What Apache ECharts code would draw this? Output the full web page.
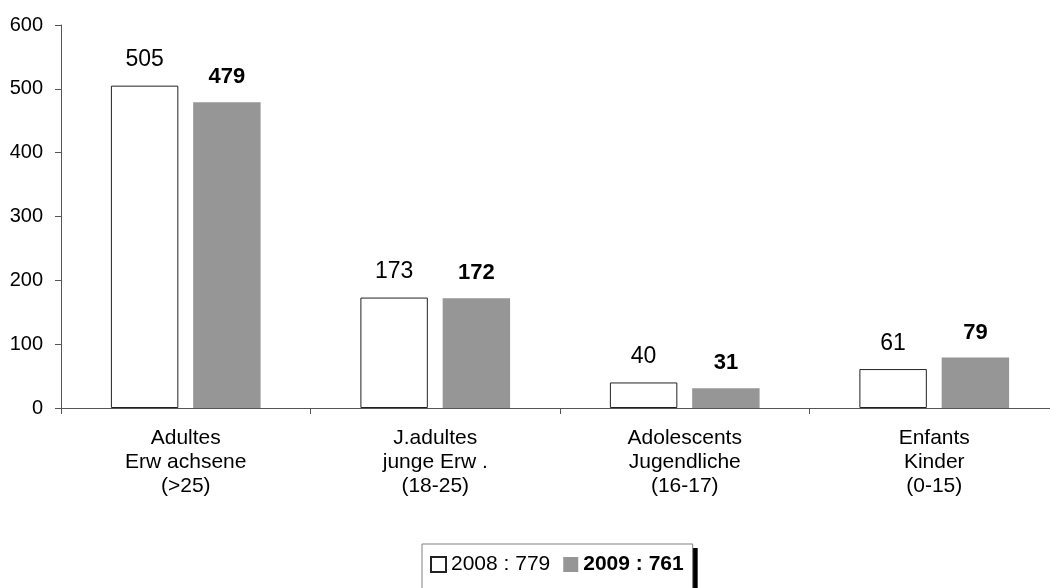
<!DOCTYPE html>
<html><head><meta charset="utf-8">
<script src="https://cdn.jsdelivr.net/npm/echarts@6/dist/echarts.min.js"></script>
<style>html,body{margin:0;padding:0;background:#fff;overflow:hidden}#c{width:1062px;height:588px}</style>
</head><body><div id="c"></div>
<script>
const categories = ['Adultes\nErw achsene\n(>25)', 'J.adultes\njunge Erw .\n(18-25)', 'Adolescents\nJugendliche\n(16-17)', 'Enfants\nKinder\n(0-15)'];
const values2008 = [505, 173, 40, 61];
const values2009 = [479, 172, 31, 79];
const seriesNames = ['2008 : 779', '2009 : 761'];
const yTicks = [0, 100, 200, 300, 400, 500, 600];

const font = 'Liberation Sans, Arial, sans-serif';
const legendText = {
  fontFamily: font, fontSize: 21, color: '#000',
  rich: {n: {fontFamily: font, fontSize: 21, color: '#000'},
         b: {fontFamily: font, fontSize: 21, color: '#000', fontWeight: 'bold'}}
};
const legendBase = {
  left: 422, top: 544,
  data: seriesNames,
  icon: 'rect', itemWidth: 15, itemHeight: 15, itemGap: 13,
  padding: [10, 9, 16, 8],
  formatter: n => n.startsWith('2009') ? '{b|' + n + '}' : '{n|' + n + '}',
  textStyle: legendText
};
const chart = echarts.init(document.getElementById('c'), null, {renderer: 'canvas'});
chart.setOption({
  animation: false,
  grid: {left: 61, right: 3, top: 25, bottom: 180, containLabel: false},
  legend: [
    Object.assign({}, legendBase, {
      backgroundColor: '#fff', borderWidth: 0,
      shadowColor: '#000', shadowBlur: 0, shadowOffsetX: 5, shadowOffsetY: 4
    }),
    Object.assign({}, legendBase, {
      backgroundColor: 'transparent', borderColor: '#808080', borderWidth: 1,
      itemStyle: {opacity: 0},
      textStyle: {fontFamily: font, fontSize: 21, color: 'rgba(0,0,0,0)',
        rich: {n: {fontFamily: font, fontSize: 21, color: 'rgba(0,0,0,0)'},
               b: {fontFamily: font, fontSize: 21, color: 'rgba(0,0,0,0)', fontWeight: 'bold'}}}
    })
  ],
  xAxis: {
    type: 'category', data: categories,
    axisLine: {lineStyle: {color: '#555', width: 1}},
    axisTick: {show: true, alignWithLabel: false, length: 6, lineStyle: {color: '#555'}},
    axisLabel: {fontFamily: font, fontSize: 21, color: '#000', lineHeight: 24, margin: 18, interval: 0}
  },
  yAxis: {
    type: 'value', min: yTicks[0], max: yTicks[yTicks.length - 1], interval: 100,
    splitLine: {show: false},
    axisLine: {show: true, lineStyle: {color: '#555', width: 1}},
    axisTick: {show: true, length: 6, lineStyle: {color: '#555'}},
    axisLabel: {fontFamily: font, fontSize: 20, color: '#000', margin: 18}
  },
  series: [
    {
      name: seriesNames[0], type: 'bar', data: values2008,
      barGap: '22%', barCategoryGap: '40%',
      itemStyle: {color: '#fff', borderColor: '#222', borderWidth: 1},
      label: {show: true, position: 'top', distance: 14, fontFamily: font, fontSize: 23, color: '#000'}
    },
    {
      name: seriesNames[1], type: 'bar', data: values2009,
      itemStyle: {color: '#969696'},
      label: {show: true, position: 'top', distance: 14, fontFamily: font, fontSize: 22, color: '#000', fontWeight: 'bold'}
    }
  ]
});
</script></body></html>
